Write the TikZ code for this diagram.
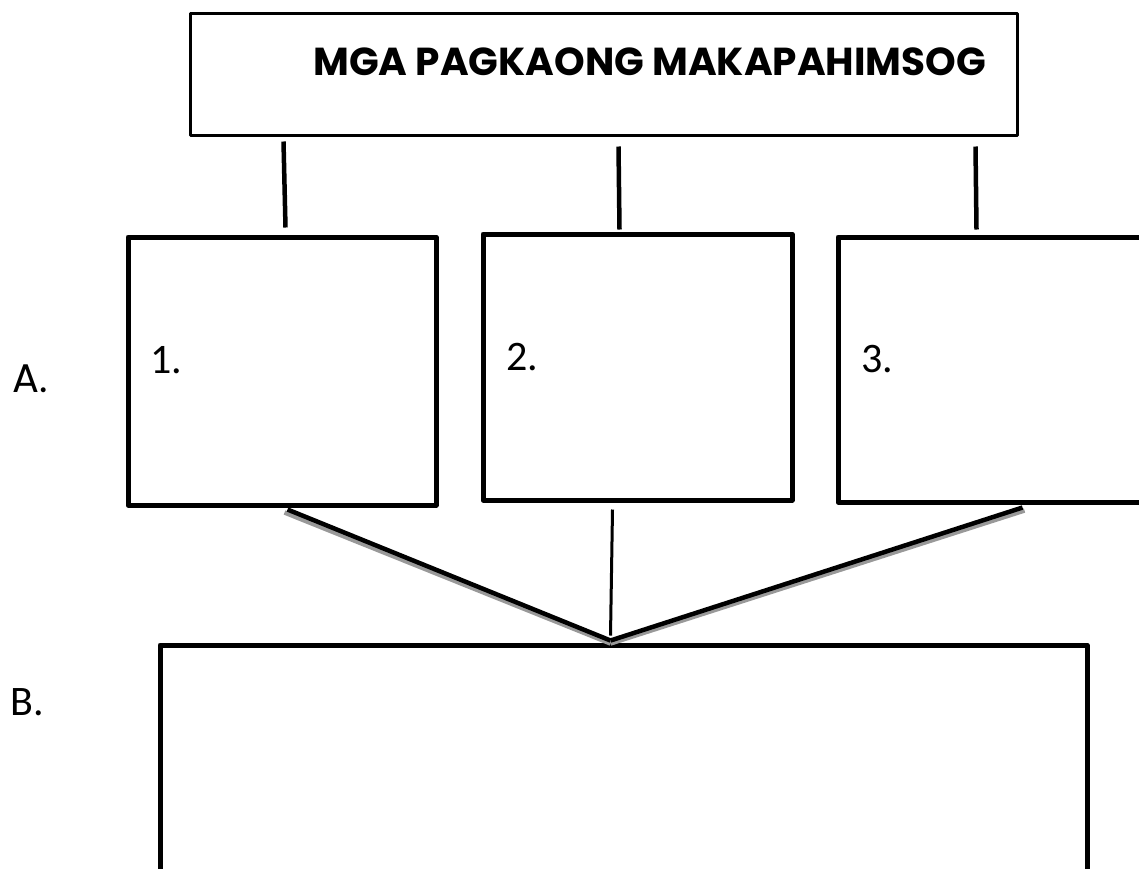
\documentclass[tikz,border=0pt]{standalone}
\usepackage{fontspec}
\setmainfont{Poppins}
\newfontfamily\numfont{Carlito}
\usetikzlibrary{calc}
\begin{document}
\begin{tikzpicture}[x=1pt,y=-1pt,
  frame/.style={draw=black, line width=5, line join=round, minimum width=#1, inner sep=0pt},
  link/.style={draw=black, line width=4.5},
  thinlink/.style={draw=black, line width=3},
  shade/.style={draw=black!40, line width=4.5},
  numtext/.style={font=\numfont\fontsize{42}{42}\selectfont, anchor=base west, inner sep=0pt},
  rowtext/.style={font=\fontsize{40}{40}\selectfont, anchor=base west, inner sep=0pt},
]
\useasboundingbox (0,0) rectangle (1139,868);

% heading box
\node[frame=827, line width=3, minimum height=122] (title) at (603.5,74) {};
\node[font=\bfseries\fontsize{39}{39}\selectfont, anchor=base west, inner sep=0pt] (head) at (313,75) {MGA PAGKAONG MAKAPAHIMSOG};

% three answer boxes
\node[frame=308, minimum height=268] (b1) at (282,371) {};
\node[frame=309, minimum height=266] (b2) at (637.5,367) {};
\node[frame=306, minimum height=265] (b3) at (991,369.5) {};

% summary box
\node[frame=927, minimum height=240] (bb) at (623.5,765) {};

% numbers and row labels
\node[numtext] (n1) at (150,373) {1.};
\node[numtext] (n2) at (506,370) {2.};
\node[numtext] (n3) at (861,372) {3.};
\node[rowtext] (la) at (12,392) {A.};
\node[numtext] (lb) at (10,715) {B.};

% heading to boxes
\coordinate (t1) at ($(title.south west)+(95,5)$);
\coordinate (t2) at ($(title.south west)+(430,10)$);
\coordinate (t3) at ($(title.south west)+(787,10)$);
\coordinate (e1) at ($(b1.north west)+(160,-7)$);
\coordinate (e2) at ($(b2.north west)+(139,-2)$);
\coordinate (e3) at ($(b3.north west)+(141,-5)$);
\draw[link] (t1) -- (e1);
\draw[link] (t2) -- (e2);
\draw[link] (t3) -- (e3);

% boxes to summary
\coordinate (s1) at ($(b1.south west)+(162,2)$);
\coordinate (s2) at ($(b2.south west)+(132,7)$);
\coordinate (s3) at ($(b3.south west)+(187,3)$);
\coordinate (apex) at ($(bb.north west)+(453,-2)$);
\coordinate (apex2) at ($(bb.north west)+(453,-7)$);
\draw[shade] ($(s1)+(-3,3)$) -- ($(apex)+(0,3)$);
\draw[shade] ($(s3)+(2,3)$) -- ($(apex)+(0,3)$);
\draw[link] (s1) -- (apex);
\draw[link] (s3) -- (apex);
\draw[thinlink] (s2) -- (apex2);
\end{tikzpicture}
\end{document}
